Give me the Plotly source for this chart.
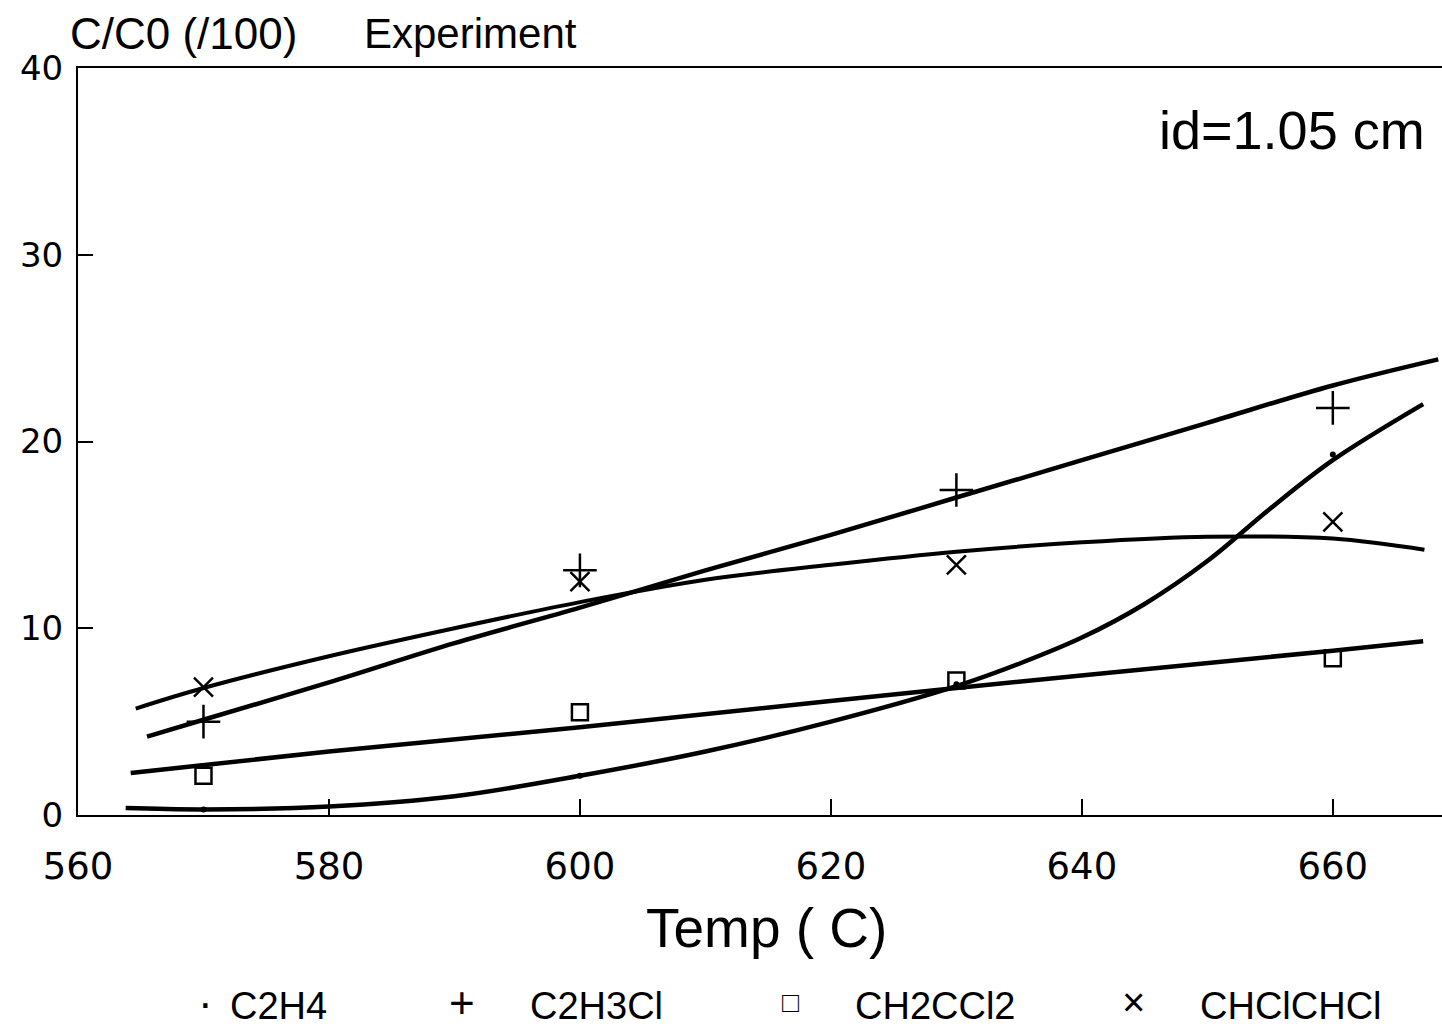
import plotly.graph_objects as go

# measured data points (temperature, C/C0 /100)
temps = [570, 600, 630, 660]
c2h4 = [0.3, 2.1, 7.0, 19.3]
c2h3cl = [5.0, 13.1, 17.4, 21.8]
ch2ccl2 = [2.1, 5.5, 7.2, 8.4]
chclchcl = [6.85, 12.5, 13.4, 15.7]

# fitted curves
fit_c2h4_x = [563.8, 570, 580, 590, 600, 610, 620, 630, 635, 640, 645, 650, 655, 660, 667.2]
fit_c2h4_y = [0.37, 0.3, 0.45, 1.0, 2.1, 3.4, 5.0, 6.9, 8.1, 9.5, 11.3, 13.6, 16.4, 19.0, 22.0]
fit_c2h3cl_x = [565.5, 570, 580, 590, 600, 610, 620, 630, 640, 650, 660, 668.4]
fit_c2h3cl_y = [4.2, 5.1, 7.1, 9.2, 11.1, 13.1, 15.0, 17.0, 19.0, 21.0, 23.0, 24.4]
fit_ch2ccl2_x = [564.2, 580, 600, 630, 660, 667.2]
fit_ch2ccl2_y = [2.25, 3.4, 4.7, 6.8, 8.8, 9.3]
fit_chclchcl_x = [564.6, 570, 580, 590, 600, 610, 620, 630, 640, 650, 660, 667.3]
fit_chclchcl_y = [5.7, 6.8, 8.5, 10.0, 11.4, 12.6, 13.4, 14.1, 14.6, 14.9, 14.8, 14.2]

x_ticks = [560, 580, 600, 620, 640, 660]
y_ticks = [0, 10, 20, 30, 40]
legend_names = ["C2H4", "C2H3Cl", "CH2CCl2", "CHClCHCl"]
legend_syms = ["\u00b7", "+", "\u25a1", "\u00d7"]
legend_sym_sizes = [44, 44, 28, 40]

FONT = "Liberation Sans, Arial, sans-serif"
fig = go.Figure()

for fx, fy, w in [(fit_c2h4_x, fit_c2h4_y, 4.5), (fit_c2h3cl_x, fit_c2h3cl_y, 4.5),
                  (fit_ch2ccl2_x, fit_ch2ccl2_y, 4.5), (fit_chclchcl_x, fit_chclchcl_y, 4)]:
    fig.add_trace(go.Scatter(x=fx, y=fy, mode="lines",
                             line=dict(color="black", width=w, shape="spline", smoothing=1.0),
                             showlegend=False, hoverinfo="skip"))

fig.add_trace(go.Scatter(x=temps, y=c2h4, mode="markers", name="C2H4",
                         marker=dict(symbol="circle", size=6, color="black"), showlegend=False))
fig.add_trace(go.Scatter(x=temps, y=c2h3cl, mode="markers", name="C2H3Cl",
                         marker=dict(symbol="cross-thin-open", size=24, color="black",
                                     line=dict(width=2.5, color="black")),
                         showlegend=False))
fig.add_trace(go.Scatter(x=temps, y=ch2ccl2, mode="markers", name="CH2CCl2",
                         marker=dict(symbol="square-open", size=16, color="black",
                                     line=dict(width=2.5, color="black")),
                         showlegend=False))
fig.add_trace(go.Scatter(x=temps, y=chclchcl, mode="markers", name="CHClCHCl",
                         marker=dict(symbol="x-thin-open", size=19, color="black",
                                     line=dict(width=2.5, color="black")),
                         showlegend=False))

L, R, T, B = 78, 0, 68, 217
W, H = 1442, 1032
pw, ph = W - L - R, H - T - B

def px(xp):
    return (xp - L) / pw

def py(yp):
    return (H - B - yp) / ph

ann = [
    dict(text="C/C0 (/100)", x=px(68), y=py(33), xanchor="left", yanchor="middle",
         font=dict(size=44, family=FONT)),
    dict(text="Experiment", x=px(362), y=py(33), xanchor="left", yanchor="middle",
         font=dict(size=42, family=FONT)),
    dict(text="id=1.05 cm", x=px(1427), y=py(130), xanchor="right", yanchor="middle",
         font=dict(size=54, family=FONT)),
    dict(text="Temp ( C)", x=px(766), y=py(928), xanchor="center", yanchor="middle",
         font=dict(size=55, family=FONT)),
]
sym_x = [205, 462, 790, 1133]
txt_x = [228, 528, 853, 1198]
for s, n, sx, tx, ss in zip(legend_syms, legend_names, sym_x, txt_x, legend_sym_sizes):
    ann.append(dict(text=s, x=px(sx), y=py(1002), xanchor="center", yanchor="middle",
                    font=dict(size=ss, family=FONT)))
    ann.append(dict(text=n, x=px(tx), y=py(1006), xanchor="left", yanchor="middle",
                    font=dict(size=38, family=FONT)))
for a in ann:
    a.update(xref="paper", yref="paper", showarrow=False)

fig.update_layout(
    width=W, height=H, margin=dict(l=L, r=R, t=T, b=B),
    paper_bgcolor="white", plot_bgcolor="white",
    annotations=ann, showlegend=False,
    font=dict(family="DejaVu Sans, sans-serif", color="black"),
)
fig.update_xaxes(range=[560, 668.7], tickvals=x_ticks, ticks="inside", ticklen=16, tickwidth=2,
                 tickcolor="black", showline=True, linecolor="black", linewidth=2, mirror=True,
                 showgrid=False, zeroline=False, tickfont=dict(size=37), ticklabelstandoff=18)
fig.update_yaxes(range=[0, 40], tickvals=y_ticks, ticks="inside", ticklen=15, tickwidth=2,
                 tickcolor="black", showline=True, linecolor="black", linewidth=2, mirror=False,
                 showgrid=False, zeroline=False, tickfont=dict(size=34), ticklabelstandoff=6)

fig.write_html("out.html")
